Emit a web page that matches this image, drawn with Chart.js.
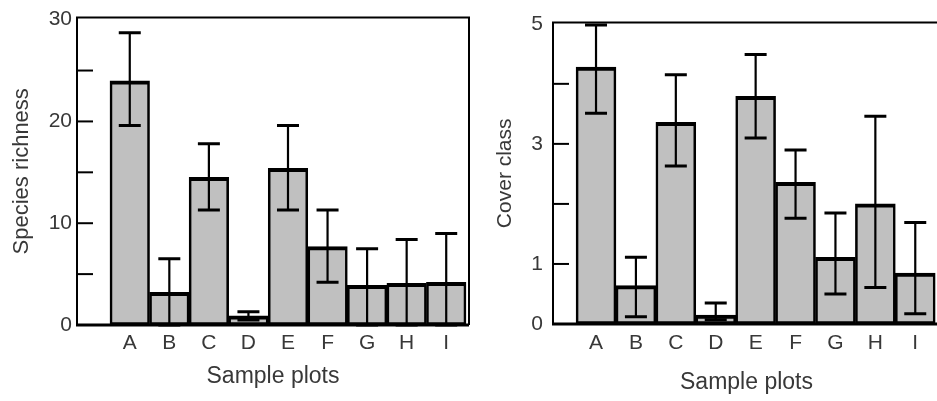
<!DOCTYPE html>
<html><head><meta charset="utf-8">
<script src="https://cdn.jsdelivr.net/npm/chart.js@4.4.1/dist/chart.umd.min.js"></script>
<style>
html,body{margin:0;padding:0;background:#fff;overflow:hidden;width:937px;height:401px;}
#left{position:absolute;left:0;top:0;}
#right{position:absolute;left:470px;top:0;}
</style></head><body>
<canvas id="left" width="470" height="401"></canvas>
<canvas id="right" width="472" height="401"></canvas>
<script>
const categories = ['A','B','C','D','E','F','G','H','I'];
const richness      = [24.0, 3.2, 14.5, 0.9, 15.4, 7.7, 3.9, 4.1, 4.2];
const richnessLower = [19.6, 0,   11.3, 0.5, 11.3, 4.2, 0,   0,   0  ];
const richnessUpper = [28.7, 6.5, 17.8, 1.3, 19.6, 11.3, 7.5, 8.4, 9.0];
const richnessTickLabels = [0, 10, 20, 30];
const richnessTickMarks  = [5, 10, 15, 20, 25];
const cover      = [4.28, 0.64, 3.36, 0.15, 3.79, 2.36, 1.11, 2.00, 0.85];
const coverLower = [3.51, 0.12, 2.63, 0.07, 3.10, 1.76, 0.50, 0.61, 0.17];
const coverUpper = [4.98, 1.11, 4.15, 0.35, 4.49, 2.90, 1.85, 3.46, 1.69];
const coverTickLabels = [0, 1, 3, 5];
const coverTickMarks  = [1, 2, 3, 4];

Chart.defaults.font.family = "'Liberation Sans', Arial, sans-serif";
Chart.defaults.font.size = 21;
Chart.defaults.color = '#383838';

function makePanel(id, cfg) {
  const panelPlugin = {
    id: 'panel' + id,
    afterDatasetsDraw(chart) {
      const {ctx, chartArea: a, scales: {x, y}} = chart;
      ctx.save();
      ctx.strokeStyle = '#000';
      ctx.lineCap = 'butt';
      cfg.lower.forEach((lo, i) => {
        const px = x.getPixelForValue(i);
        const yl = y.getPixelForValue(lo), yu = y.getPixelForValue(cfg.upper[i]);
        ctx.lineWidth = 2.2;
        ctx.beginPath();
        ctx.moveTo(px, yl); ctx.lineTo(px, yu);
        ctx.stroke();
        ctx.lineWidth = 3;
        ctx.beginPath();
        ctx.moveTo(px - 11, yu); ctx.lineTo(px + 11, yu);
        ctx.moveTo(px - 11, yl); ctx.lineTo(px + 11, yl);
        ctx.stroke();
      });
      ctx.lineWidth = 2;
      ctx.beginPath();
      ctx.moveTo(a.left, a.bottom); ctx.lineTo(a.left, a.top);
      ctx.lineTo(a.right, a.top); ctx.lineTo(a.right, a.bottom);
      ctx.stroke();
      ctx.lineWidth = 3;
      ctx.beginPath(); ctx.moveTo(a.left - 1, a.bottom); ctx.lineTo(a.right, a.bottom); ctx.stroke();
      ctx.lineWidth = 2;
      cfg.marks.forEach(v => {
        const py = y.getPixelForValue(v);
        ctx.beginPath(); ctx.moveTo(a.left, py); ctx.lineTo(a.left + 16, py); ctx.stroke();
      });
      ctx.restore();
    }
  };
  return new Chart(document.getElementById(id), {
    type: 'bar',
    data: {
      datasets: [{
        data: categories.map((c, i) => ({x: i, y: cfg.values[i]})),
        backgroundColor: '#c0c0c0',
        borderColor: '#000',
        borderWidth: {top: 4, left: 2.6, right: 2.6, bottom: 3},
        borderSkipped: false,
        barPercentage: 1,
        categoryPercentage: 1
      }]
    },
    options: {
      responsive: false,
      animation: false,
      events: [],
      layout: {padding: {top: cfg.padTop, right: cfg.padRight, left: 0, bottom: 0}},
      plugins: {legend: {display: false}, tooltip: {enabled: false}},
      scales: {
        x: {
          type: 'linear', offset: false,
          min: cfg.xMin, max: cfg.xMax,
          grid: {display: false, drawTicks: false}, border: {display: false},
          afterBuildTicks: s => { s.ticks = categories.map((c, i) => ({value: i})); },
          afterFit: s => { s.height = cfg.xHeight; },
          ticks: {padding: cfg.xTickPad, autoSkip: false, maxRotation: 0,
                  callback: v => categories[v] !== undefined ? categories[v] : ''},
          title: {display: true, text: 'Sample plots', font: {size: 23},
                  padding: {top: 0, bottom: cfg.xTitlePad}}
        },
        y: {
          min: 0, max: cfg.yMax,
          grid: {display: false, drawTicks: false}, border: {display: false},
          afterBuildTicks: s => { s.ticks = cfg.tickLabels.map(v => ({value: v})); },
          afterFit: s => { s.width = cfg.yWidth; },
          ticks: {padding: cfg.yTickPad},
          title: {display: true, text: cfg.yTitle, font: {size: cfg.yTitleSize},
                  padding: {top: cfg.yTitlePad, bottom: 0}}
        }
      }
    },
    plugins: [panelPlugin]
  });
}

makePanel('left', {
  values: richness, lower: richnessLower, upper: richnessUpper,
  tickLabels: richnessTickLabels, marks: richnessTickMarks,
  yTitle: 'Species richness', yTitleSize: 22, yMax: 30.2, xMin: -1.334, xMax: 8.576,
  yWidth: 77, padTop: 17, padRight: 1, xHeight: 76,
  yTitlePad: 8.8, xTitlePad: 10.2, xTickPad: 5.4, yTickPad: 5
});
makePanel('right', {
  values: cover, lower: coverLower, upper: coverUpper,
  tickLabels: coverTickLabels, marks: coverTickMarks,
  yTitle: 'Cover class', yTitleSize: 21, yMax: 5.02, xMin: -1.078, xMax: 8.62,
  yWidth: 83, padTop: 18, padRight: 2, xHeight: 77,
  yTitlePad: 22.4, xTitlePad: 4.2, xTickPad: 6.4, yTickPad: 10
});
</script>
</body></html>
